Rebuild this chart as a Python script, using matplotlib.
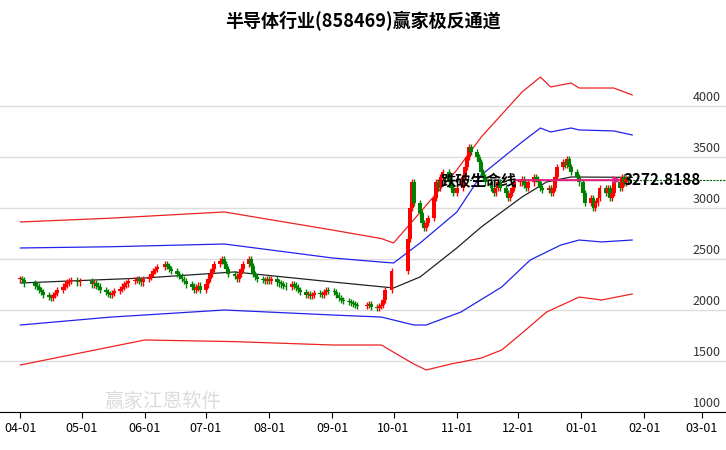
import pandas as pd
import numpy as np
import matplotlib
matplotlib.use('Agg')
import matplotlib.pyplot as plt
import matplotlib.dates as mdates

plt.rcParams['font.family'] = ['Noto Sans CJK SC', 'DejaVu Sans']

# ── daily closes, one list per month ─────────────────────────────────────
closes = {
    '2024-04': [2300, 2290, 2260, 2240, 2230, 2200, 2180, 2150, 2130, 2120, 2150, 2170, 2200, 2230, 2250, 2270, 2280, 2290, 2270, 2280],
    '2024-05': [2250, 2260, 2240, 2230, 2200, 2180, 2160, 2150, 2170, 2190, 2210, 2230, 2250, 2260, 2280, 2290, 2300, 2280, 2270, 2300],
    '2024-06': [2320, 2350, 2380, 2400, 2420, 2450, 2430, 2400, 2380, 2350, 2330, 2300, 2280, 2250, 2230, 2200, 2220, 2240, 2200],
    '2024-07': [2250, 2300, 2350, 2400, 2450, 2480, 2500, 2450, 2400, 2350, 2330, 2300, 2350, 2400, 2450, 2500, 2430, 2350, 2320, 2300, 2290, 2280, 2300],
    '2024-08': [2280, 2300, 2270, 2260, 2250, 2240, 2230, 2250, 2240, 2220, 2200, 2180, 2150, 2160, 2140, 2150, 2170, 2160, 2150, 2180, 2200, 2190],
    '2024-09': [2180, 2150, 2120, 2100, 2090, 2080, 2070, 2060, 2050, 2040, 2050, 2060, 2030, 2020, 2040, 2050, 2100, 2200, 2380],
    '2024-10': [2700, 3000, 3250, 3050, 2950, 2850, 2800, 2850, 2900, 3100, 3250, 3200, 3300, 3350, 3250, 3200, 3150],
    '2024-11': [3200, 3300, 3400, 3500, 3600, 3550, 3500, 3450, 3350, 3300, 3250, 3200, 3150, 3200, 3250, 3200, 3150, 3100, 3150, 3200, 3250],
    '2024-12': [3250, 3280, 3230, 3200, 3250, 3300, 3280, 3250, 3200, 3180, 3200, 3150, 3200, 3300, 3400, 3450, 3420, 3480, 3400, 3350, 3300, 3250],
    '2025-01': [3150, 3050, 3100, 3000, 3050, 3100, 3200, 3150, 3200, 3100, 3150, 3250, 3200, 3300, 3250, 3280, 3270],
}
holidays = pd.to_datetime(['2024-04-04', '2024-04-05', '2024-05-01', '2024-05-02', '2024-05-03',
                           '2024-06-10', '2024-09-16', '2024-09-17', '2024-10-01', '2024-10-02',
                           '2024-10-03', '2024-10-04', '2024-10-07', '2025-01-01'])

dates, close = [], []
for month, vals in closes.items():
    days = pd.bdate_range(month + '-01', periods=23)
    days = [d for d in days if d.strftime('%Y-%m') == month and d not in holidays]
    for d, v in zip(days, vals):
        dates.append(d)
        close.append(v)
dates = pd.to_datetime(dates)
close = np.array(close, dtype=float)
opens = np.r_[close[0], close[:-1]]

# ── channel lines (read at key dates) ────────────────────────────────────
red_up_d = ['2024-04-01', '2024-05-15', '2024-07-10', '2024-09-01', '2024-09-25', '2024-10-01', '2024-11-01',
            '2024-11-13', '2024-12-03', '2024-12-12', '2024-12-17', '2024-12-27', '2024-12-31', '2025-01-17', '2025-01-26']
red_up = [2863, 2900, 2961, 2784, 2700, 2657, 3373, 3696, 4137, 4284, 4186, 4225, 4176, 4176, 4108]

blue_up_d = ['2024-04-01', '2024-05-15', '2024-07-10', '2024-09-01', '2024-09-25', '2024-10-01', '2024-10-14', '2024-11-01',
             '2024-11-13', '2024-12-03', '2024-12-12', '2024-12-17', '2024-12-27', '2024-12-31', '2025-01-17', '2025-01-26']
blue_up = [2608, 2620, 2647, 2510, 2470, 2461, 2657, 2960, 3323, 3647, 3784, 3745, 3784, 3765, 3755, 3716]

mid_d = ['2024-04-01', '2024-06-01', '2024-07-15', '2024-09-01', '2024-10-01', '2024-10-14', '2024-11-01',
         '2024-11-13', '2024-12-03', '2024-12-15', '2024-12-27', '2025-01-26']
mid = [2265, 2314, 2373, 2275, 2216, 2324, 2608, 2814, 3108, 3255, 3304, 3300]

blue_dn_d = ['2024-04-01', '2024-05-15', '2024-07-10', '2024-09-01', '2024-09-25', '2024-10-11', '2024-10-17',
             '2024-11-03', '2024-11-23', '2024-12-07', '2024-12-22', '2024-12-31', '2025-01-11', '2025-01-26']
blue_dn = [1853, 1930, 2000, 1951, 1931, 1853, 1853, 1980, 2225, 2490, 2637, 2686, 2667, 2686]

red_dn_d = ['2024-04-01', '2024-06-01', '2024-07-15', '2024-09-01', '2024-09-25', '2024-10-05', '2024-10-11', '2024-10-17',
            '2024-10-29', '2024-11-13', '2024-11-23', '2024-12-03', '2024-12-15', '2024-12-31', '2025-01-11', '2025-01-26']
red_dn = [1461, 1706, 1690, 1657, 1657, 1539, 1470, 1412, 1470, 1529, 1608, 1774, 1980, 2127, 2098, 2157]

life_line = 3272.8188
yticks = [1000, 1500, 2000, 2500, 3000, 3500, 4000]
xticks = ['2024-04-01', '2024-05-01', '2024-06-01', '2024-07-01', '2024-08-01', '2024-09-01',
          '2024-10-01', '2024-11-01', '2024-12-01', '2025-01-01', '2025-02-01', '2025-03-01']


def dn(s):
    return mdates.date2num(pd.Timestamp(s))


fig = plt.figure(figsize=(7.26, 4.5), dpi=100)
ax = fig.add_axes([0, 0.0844, 1, 0.849])

for y in yticks:
    ax.axhline(y, color='#dddddd', lw=1, zorder=0)

x = mdates.date2num(dates)
up = close >= opens
wick = 30
for xi, o, c, u in zip(x, opens, close, up):
    col = '#ff0000' if u else '#008000'
    ax.vlines(xi, min(o, c) - wick, max(o, c) + wick, color=col, lw=1, zorder=3)
    ax.bar(xi, max(abs(c - o), 10), bottom=min(o, c), width=1.9, color=col, zorder=3)

for d, v, col in [(red_up_d, red_up, '#ee2222'), (blue_up_d, blue_up, '#2222ee'),
                  (mid_d, mid, '#222222'), (blue_dn_d, blue_dn, '#2222ee'),
                  (red_dn_d, red_dn, '#ee2222')]:
    ax.plot(mdates.date2num(pd.to_datetime(d)), v, color=col, lw=0.9, zorder=2)

# life line annotation
ax.axhline(life_line, xmin=0.6, color='#006600', lw=0.8, ls=(0, (2, 1)), zorder=2)
ax.annotate('', xy=(dn('2025-01-22'), life_line), xytext=(dn('2024-11-28'), life_line),
            arrowprops=dict(arrowstyle='-|>', color='#e0207a', lw=1.5), zorder=5)
ax.text(dn('2024-11-12'), life_line, '跌破生命线',
        fontsize=11, fontweight='bold', va='center', ha='center', zorder=6)
ax.text(dn('2025-01-22'), life_line, '3272.8188',
        fontsize=11, fontweight='bold', va='center', ha='left', zorder=6)

for y in yticks:
    ax.text(0.993, y + 20, str(y), transform=ax.get_yaxis_transform(), ha='right', va='bottom',
            fontsize=9, color='#333333')

ax.text(dn('2024-06-10'), 1100, '赢家江恩软件', fontsize=14,
        color='#cccccc', ha='center', va='center', alpha=0.7, zorder=1)

ax.set_xlim(dn('2024-03-22'), dn('2025-03-13'))
ax.set_ylim(1000, 4745)
ax.set_yticks([])
ax.set_xticks(mdates.date2num(pd.to_datetime(xticks)))
ax.set_xticklabels([d[5:] for d in xticks], fontsize=9)
ax.tick_params(axis='x', direction='out', length=4)
for s in ['top', 'left', 'right']:
    ax.spines[s].set_visible(False)

fig.suptitle('半导体行业(858469)赢家极反通道', fontsize=13, fontweight='bold', y=0.975)
fig.savefig('out.png', dpi=100)
